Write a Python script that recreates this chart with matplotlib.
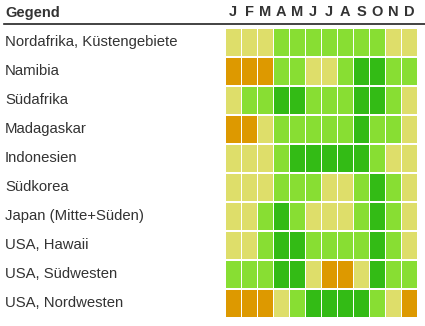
import matplotlib.pyplot as plt
from matplotlib.lines import Line2D
from matplotlib.transforms import blended_transform_factory

plt.rcParams['font.family'] = ['Liberation Sans', 'DejaVu Sans']

# Regions and month initials
regions = [
    "Nordafrika, Küstengebiete",
    "Namibia",
    "Südafrika",
    "Madagaskar",
    "Indonesien",
    "Südkorea",
    "Japan (Mitte+Süden)",
    "USA, Hawaii",
    "USA, Südwesten",
    "USA, Nordwesten",
]
months = ["J", "F", "M", "A", "M", "J", "J", "A", "S", "O", "N", "D"]

# Travel rating per month: 0 = poor, 1 = fair, 2 = good, 3 = best
ratings = [
    [1, 1, 1, 2, 2, 2, 2, 2, 2, 2, 1, 1],
    [0, 0, 0, 2, 2, 1, 1, 2, 3, 3, 2, 2],
    [1, 2, 2, 3, 3, 2, 2, 2, 3, 3, 2, 1],
    [0, 0, 1, 2, 2, 2, 2, 2, 3, 2, 2, 1],
    [1, 1, 1, 2, 3, 3, 3, 3, 3, 2, 1, 1],
    [1, 1, 1, 2, 2, 2, 1, 1, 2, 3, 2, 1],
    [1, 1, 2, 3, 2, 1, 1, 1, 2, 3, 2, 1],
    [1, 1, 2, 3, 3, 2, 2, 2, 2, 3, 2, 1],
    [2, 2, 2, 3, 3, 1, 0, 0, 1, 3, 2, 2],
    [0, 0, 0, 1, 2, 3, 3, 3, 3, 2, 1, 0],
]

level_colors = ['#dd9900', '#dede6a', '#88de33', '#33bb15']
text_color = '#333333'

W, H = 425, 326
fig = plt.figure(figsize=(W / 100, H / 100), dpi=100)

# grid area in pixels: x 225..417, y 27.8..317.8
grid = fig.add_axes([225 / W, 1 - 317.8 / H, 192 / W, 290 / H])
grid.set_xlim(-0.5, len(months) - 0.5)
grid.set_ylim(len(regions) - 0.5, -0.5)
grid.axis('off')

for i, row in enumerate(ratings):
    grid.bar(range(len(months)), 0.918, bottom=i - 0.459, width=15 / 16,
             color=[level_colors[v] for v in row], linewidth=0)

# month letters above the columns
top = blended_transform_factory(grid.transData, fig.transFigure)
for j, m in enumerate(months):
    fig.text(j, 1 - 12.5 / H, m, transform=top, ha='center', va='center',
             fontsize=10.5, fontweight='bold', color=text_color)

# region names on the left
left = blended_transform_factory(fig.transFigure, grid.transData)
for i, name in enumerate(regions):
    fig.text(5 / W, i, name, transform=left, ha='left', va='center',
             fontsize=10.7, color=text_color)

fig.text(5 / W, 1 - 12.5 / H, "Gegend", ha='left', va='center',
         fontsize=10.5, fontweight='bold', color=text_color)
fig.add_artist(Line2D([4 / W, 1], [1 - 24.3 / H] * 2, color='#222222', lw=1.2))

fig.savefig('out.png', dpi=100)
